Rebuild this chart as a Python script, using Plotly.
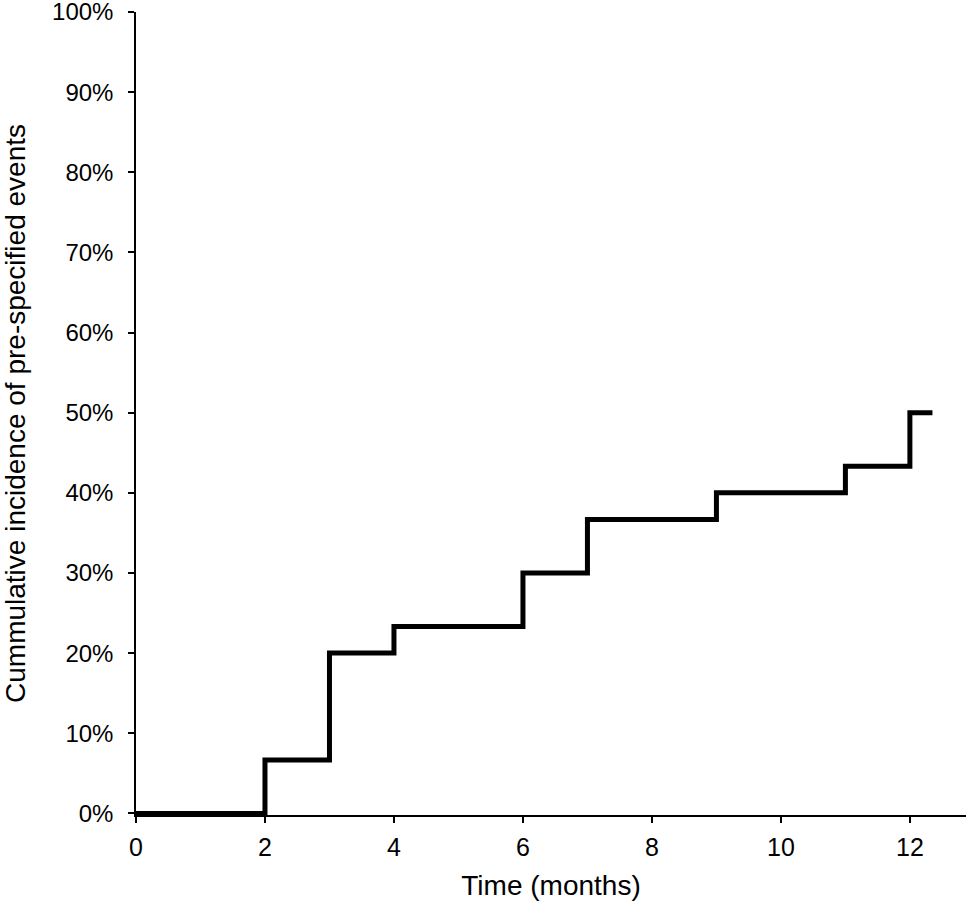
import plotly.graph_objects as go

time_months = [0, 2, 3, 4, 6, 7, 9, 11, 12, 12.35]
cum_incidence = [0.0, 0.0667, 0.20, 0.2333, 0.30, 0.3667, 0.40, 0.4333, 0.50, 0.50]
x_ticks = [0, 2, 4, 6, 8, 10, 12]
y_ticks = [0, 0.1, 0.2, 0.3, 0.4, 0.5, 0.6, 0.7, 0.8, 0.9, 1.0]

fig = go.Figure()
fig.add_trace(go.Scatter(
    x=time_months, y=cum_incidence, mode="lines",
    line=dict(shape="hv", color="black", width=5),
    showlegend=False, cliponaxis=False,
))

font = "Liberation Sans, Arial, sans-serif"
fig.update_layout(
    width=969, height=905,
    margin=dict(l=136, r=3, t=12, b=90, autoexpand=False),
    paper_bgcolor="white", plot_bgcolor="white",
    font=dict(family=font, color="black", size=24),
    xaxis=dict(
        range=[0, 12.87], tickvals=x_ticks, ticks="outside", ticklen=6,
        tickwidth=1.5, tickcolor="black", showline=True, linecolor="black",
        linewidth=1.5, showgrid=False, zeroline=False, automargin=False,
        title=dict(text="Time (months)", font=dict(size=28), standoff=16),
        tickfont=dict(size=25), ticklabelstandoff=3,
    ),
    yaxis=dict(
        range=[-0.002, 1.0], tickvals=y_ticks, tickformat=".0%", ticks="outside",
        ticklen=6, tickwidth=1.5, tickcolor="black", showline=True,
        linecolor="black", linewidth=1.5, showgrid=False, zeroline=False,
        automargin=False,
        title=dict(text="Cummulative incidence of pre-specified events",
                   font=dict(size=28), standoff=28),
        tickfont=dict(size=24), ticklabelstandoff=10,
        ticklabeloverflow="allow",
    ),
)
fig.write_html(
    "out.html",
    config={"displayModeBar": False},
    post_script="document.body.style.margin='0';document.body.style.overflow='hidden';",
)
